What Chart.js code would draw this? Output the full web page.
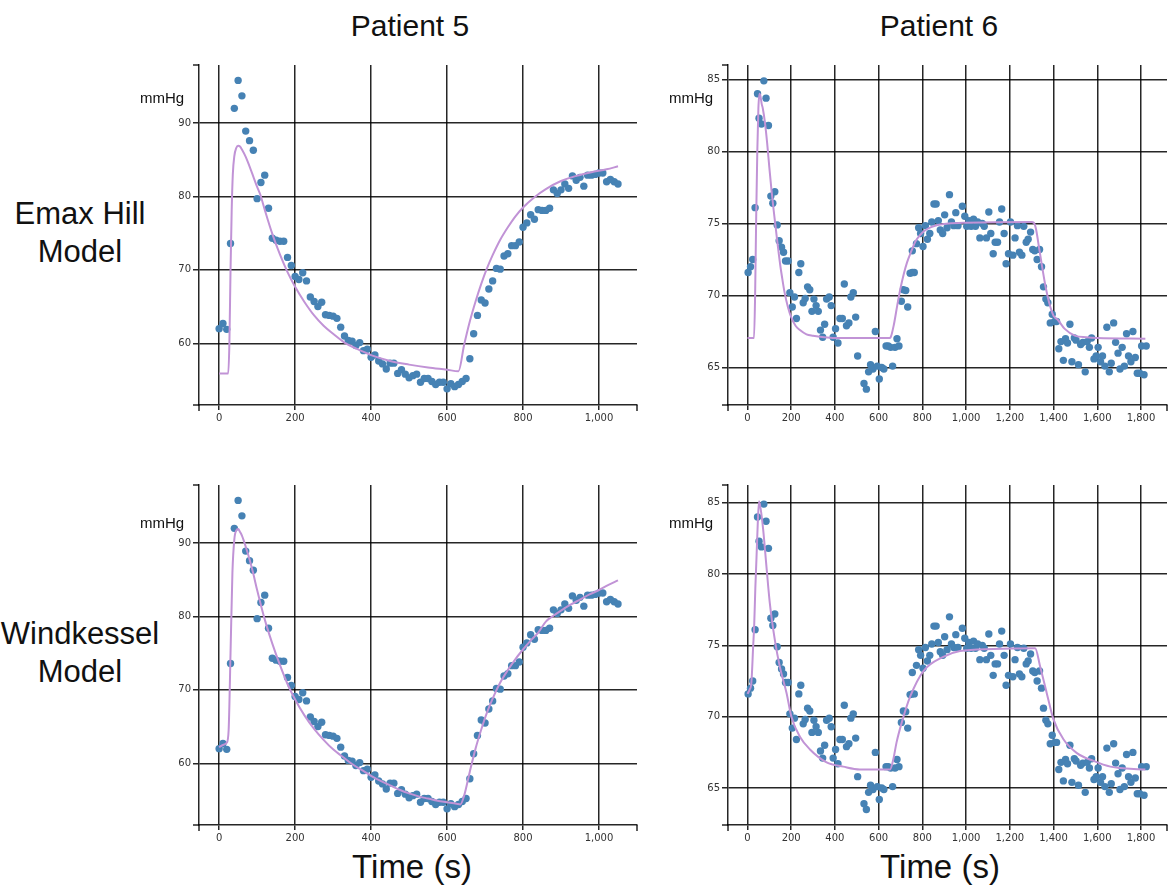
<!DOCTYPE html>
<html>
<head>
<meta charset="utf-8">
<script src="https://cdn.jsdelivr.net/npm/chart.js@4.4.1/dist/chart.umd.min.js"></script>
<style>
  html, body { margin: 0; padding: 0; background: #fff; }
  body { width: 1176px; height: 894px; position: relative; overflow: hidden; font-family: 'Liberation Sans', Arial, sans-serif; color: #111; }
  .panel { position: absolute; }
  .txt { position: absolute; white-space: nowrap; }
  .title { font-size: 30px; line-height: 30px; top: 11px; transform: translateX(-50%); }
  .xlabel { font-size: 33px; line-height: 33px; top: 850px; transform: translateX(-50%); }
  .row { font-size: 31px; line-height: 38px; left: 0; width: 160px; text-align: center; }
  .unit { font-size: 15px; line-height: 15px; }
</style>
</head>
<body>

<div class="txt title" style="left:410px">Patient 5</div>
<div class="txt title" style="left:939px">Patient 6</div>
<div class="txt row" style="top:195px">Emax Hill<br>Model</div>
<div class="txt row" style="top:615px">Windkessel<br>Model</div>
<div class="txt xlabel" style="left:412px">Time (s)</div>
<div class="txt xlabel" style="left:940px">Time (s)</div>

<canvas id="p5emax" class="panel" width="500" height="380" style="left:149px;top:55px"></canvas>
<canvas id="p6emax" class="panel" width="498" height="380" style="left:678px;top:55px"></canvas>
<canvas id="p5wk" class="panel" width="500" height="380" style="left:149px;top:475px"></canvas>
<canvas id="p6wk" class="panel" width="498" height="380" style="left:678px;top:475px"></canvas>

<div class="txt unit" style="left:140px;top:90px">mmHg</div>
<div class="txt unit" style="left:669px;top:90px">mmHg</div>
<div class="txt unit" style="left:140px;top:515px">mmHg</div>
<div class="txt unit" style="left:669px;top:515px">mmHg</div>

<script>
// ---- DATA ----
// Patient 5 measured MAP (s, mmHg)
const p5Time = [0,10,20,30,40,50,60,70,80,90,100,110,120,130,140,150,160,170,180,190,
  200,210,220,230,240,250,260,270,280,290,300,310,320,330,340,350,360,370,380,390,
  400,410,420,430,440,450,460,470,480,490,500,510,520,530,540,550,560,570,580,590,
  600,610,620,630,640,650,660,670,680,690,700,710,720,730,740,750,760,770,780,790,
  800,810,820,830,840,850,860,870,880,890,900,910,920,930,940,950,960,970,980,990,
  1000,1010,1020,1030,1040,1050];
const p5Pressure = [62.0,62.7,61.9,73.6,92.0,95.8,93.7,88.9,87.6,86.3,79.7,81.9,82.9,78.4,74.3,74.05,73.9,73.9,71.7,70.6,
  69.1,68.7,69.6,68.5,66.3,65.7,65.0,65.6,63.9,63.8,63.7,63.4,62.2,61.0,60.4,60.3,59.7,60.1,59.0,59.2,
  58.1,58.4,57.6,57.2,56.5,57.3,57.3,55.9,56.4,55.8,55.3,55.6,55.8,54.7,55.2,55.2,54.8,54.4,54.7,54.7,
  53.8,54.5,54.1,54.4,54.8,55.2,57.9,61.3,63.8,65.9,65.5,67.4,68.5,70.2,70.1,71.9,72.2,73.3,73.3,73.8,
  75.8,76.4,77.5,76.9,78.2,78.1,78.1,78.4,80.9,80.4,80.9,81.7,81.1,82.8,82.2,82.6,81.4,82.9,82.9,83.0,
  83.2,83.2,82.0,82.3,82.0,81.7];

// Patient 6 measured MAP (s, mmHg)
const p6Time = [3,14,24,35,46,53,64,75,85,96,107,116,125,136,145,156,165,174,186,194,
  205,215,224,235,244,255,264,275,285,295,304,314,324,334,344,353,362,374,383,392,
  403,414,423,434,443,453,464,473,484,495,504,533,544,554,563,574,585,594,603,614,
  624,634,644,655,664,675,684,693,704,713,724,733,744,754,754,763,773,783,792,803,
  814,823,834,843,853,863,873,882,893,902,913,924,933,944,953,963,983,994,1003,1013,
  1023,1034,1043,1053,1063,1074,1083,1093,1104,1113,1124,1133,1144,1153,1163,1174,1183,1194,1203,1214,
  1224,1235,1244,1255,1264,1275,1284,1295,1305,1314,1325,1336,1345,1354,1365,1374,1385,1394,1405,1414,
  1424,1434,1445,1455,1464,1475,1484,1495,1503,1514,1524,1534,1545,1554,1564,1574,1585,1595,1604,1615,
  1624,1635,1644,1655,1664,1675,1684,1695,1704,1714,1724,1734,1743,1754,1763,1774,1783,1794,1803,1814,1824];
const p6Pressure = [71.6,72.0,72.5,76.1,84.0,82.3,81.9,84.9,83.7,81.8,76.9,76.4,77.2,74.9,73.8,73.35,73.0,72.4,72.4,70.2,
  69.2,69.9,68.4,71.6,72.2,69.5,69.8,70.6,70.4,68.9,69.75,69.3,68.9,67.6,67.1,68.0,69.75,69.9,69.3,67.1,
  67.7,66.7,68.4,68.4,70.8,67.9,68.1,69.9,70.2,68.5,65.8,63.9,63.5,64.7,65.2,64.9,67.5,65.1,64.2,65.0,
  64.9,66.5,66.5,66.4,65.1,66.4,67.0,66.5,69.6,70.4,70.35,69.2,71.55,71.6,73.1,71.6,73.6,74.7,74.3,73.4,
  74.85,73.9,74.3,75.1,76.35,76.35,75.2,74.55,74.3,75.6,74.7,77.0,75.1,74.85,75.75,74.85,76.2,75.5,74.8,75.2,
  74.8,75.3,74.8,75.1,74.0,75.0,74.8,74.0,75.8,74.3,72.9,73.7,73.7,75.1,76.0,74.3,72.2,72.9,75.1,72.8,
  74.0,74.85,73.0,72.8,74.8,73.7,73.9,74.4,73.2,73.1,72.5,73.2,72.0,70.6,69.75,69.5,68.1,68.7,68.2,68.2,
  66.3,66.8,65.5,67.0,66.7,68.0,65.4,67.05,66.9,65.2,66.6,66.75,64.7,66.8,66.4,67.05,65.6,65.8,66.4,65.4,
  65.8,65.1,67.8,64.7,65.3,68.1,66.75,66.0,64.9,66.4,65.1,67.35,65.8,65.4,67.5,65.7,64.6,64.6,66.5,64.5,66.5];

// Model fits (curve samples)
const p5EmaxT = [0,20,24,27,30,33,36,40,45,50,55,60,70,80,90,100,108,120,140,160,180,200,225,250,275,300,330,360,400,450,500,550,600,630,
  645,660,675,690,705,720,740,760,780,800,830,860,900,940,980,1020,1050];
const p5EmaxY = [55.9,55.9,55.9,60.0,70.0,78.0,83.0,85.5,86.6,86.9,86.8,86.4,85.4,84.1,82.7,81.3,80.3,78.2,74.9,72.1,69.7,67.7,65.6,63.8,62.4,61.3,60.1,59.3,58.4,57.6,57.1,56.7,56.4,56.2,
  59.8,63.0,65.7,68.1,70.2,72.0,74.1,75.8,77.3,78.5,79.9,81.0,82.1,82.8,83.3,83.7,84.1];

const p5WkT = [0,10,20,25,30,35,40,45,50,55,60,70,80,90,100,120,140,160,180,200,225,250,275,300,325,350,375,400,425,450,475,500,525,550,575,600,625,635,
  645,660,675,690,705,720,740,760,780,800,820,840,860,880,900,925,950,975,1000,1025,1050];
const p5WkY = [62.2,62.5,62.8,64.5,75.0,86.0,90.5,91.7,91.9,91.5,91.0,89.5,87.8,85.8,83.6,79.6,76.3,73.4,70.8,68.7,66.5,64.7,63.2,61.9,60.9,59.9,59.1,58.3,57.6,57.0,56.4,55.9,55.5,55.2,54.9,54.7,54.5,54.4,
  55.6,58.9,62.0,64.6,66.9,68.8,71.0,72.7,74.2,75.5,76.7,77.8,79.3,80.1,80.8,81.6,82.3,83.0,83.6,84.3,84.9];

const p6EmaxT = [0,30,35,40,45,50,55,60,65,70,80,90,100,110,120,130,140,150,160,170,185,200,220,240,270,300,350,400,650,
  655,670,685,700,715,730,750,770,790,810,840,870,920,1000,1300,1310,1320,1335,1350,1365,1380,1400,1420,1450,1500,1550,1600,1820];
const p6EmaxY = [67.05,67.05,70.0,75.5,80.0,83.0,84.0,83.8,83.3,83.0,82.0,80.6,78.9,77.3,75.9,74.6,73.3,72.1,71.1,70.2,69.2,68.5,67.9,67.6,67.3,67.2,67.1,67.05,67.05,
  67.1,68.0,69.3,70.5,71.5,72.3,73.1,73.8,74.2,74.5,74.75,74.9,75.0,75.05,75.1,75.05,74.6,73.2,71.8,70.5,69.5,68.6,68.3,67.7,67.2,67.1,67.05,67.0];

const p6WkT = [0,10,18,26,31,36,41,47,53,60,72,87,102,125,148,179,201,240,286,362,438,514,652,
  667,682,705,744,805,896,972,1125,1316,1339,1369,1400,1446,1507,1583,1660,1820];
const p6WkY = [71.6,71.9,72.4,74.9,76.5,79.0,81.0,83.5,85.1,84.6,83.1,80.5,78.0,75.4,73.5,71.65,70.0,68.6,67.7,66.8,66.5,66.3,66.3,
  67.0,68.2,69.55,71.4,73.2,74.2,74.6,74.75,74.8,73.5,71.65,69.8,68.4,67.45,66.9,66.5,66.3];

// ---- AXES ----
const p5XTicks = [0, 200, 400, 600, 800, 1000];
const p6XTicks = [0, 200, 400, 600, 800, 1000, 1200, 1400, 1600, 1800];
const p5YTicks = [60, 70, 80, 90];
const p6YTicks = [65, 70, 75, 80, 85];

const gridCol = 'rgba(0,0,0,0.85)';
const tickCol = '#333';
const dotCol = '#4682b4';
const fitCol = '#c193d6';

function pairs(xs, ys) {
  return xs.map((x, i) => ({ x: x, y: ys[i] }));
}

// d3-style outer ticks at the ends of both domain lines
const domainCaps = {
  id: 'domainCaps',
  afterDraw(chart) {
    const { ctx, chartArea: a } = chart;
    ctx.save();
    ctx.strokeStyle = gridCol;
    ctx.lineWidth = 1.5;
    ctx.beginPath();
    ctx.moveTo(a.left - 6, a.top); ctx.lineTo(a.left, a.top);
    ctx.moveTo(a.left - 6, a.bottom); ctx.lineTo(a.left, a.bottom);
    ctx.moveTo(a.left, a.bottom); ctx.lineTo(a.left, a.bottom + 6);
    ctx.moveTo(a.right, a.bottom); ctx.lineTo(a.right, a.bottom + 6);
    ctx.stroke();
    ctx.restore();
  }
};

function makePanel(id, pts, fit, xr, yr, xTicks, yTicks, padRight) {
  new Chart(document.getElementById(id), {
    type: 'scatter',
    data: {
      datasets: [
        {
          type: 'line',
          data: fit,
          borderColor: fitCol,
          borderWidth: 2,
          pointRadius: 0,
          cubicInterpolationMode: 'monotone',
          fill: false,
        },
        {
          data: pts,
          backgroundColor: dotCol,
          borderWidth: 0,
          pointRadius: 3.7,
        }
      ]
    },
    options: {
      responsive: false,
      animation: false,
      devicePixelRatio: 1,
      layout: { padding: { left: 0, top: 10, right: padRight, bottom: 0 } },
      plugins: { legend: { display: false }, tooltip: { enabled: false } },
      scales: {
        x: {
          type: 'linear',
          min: xr[0], max: xr[1],
          afterBuildTicks: s => { s.ticks = xTicks.map(v => ({ value: v })); },
          afterFit: s => { s.height = 30; },
          grid: { color: gridCol, lineWidth: 1.5, tickLength: 5 },
          border: { color: gridCol, width: 1.5 },
          ticks: {
            padding: 2,
            color: tickCol,
            font: { family: "'DejaVu Sans'", size: 10 },
            maxRotation: 0,
            callback: v => v.toLocaleString('en-US'),
          },
        },
        y: {
          min: yr[0], max: yr[1],
          afterBuildTicks: s => { s.ticks = yTicks.map(v => ({ value: v })); },
          afterFit: s => { s.width = 50; },
          grid: { color: gridCol, lineWidth: 1.5, tickLength: 6 },
          border: { color: gridCol, width: 1.5 },
          ticks: {
            padding: 2,
            color: tickCol,
            font: { family: "'DejaVu Sans'", size: 10 },
          },
        }
      }
    },
    plugins: [domainCaps]
  });
}

makePanel('p5emax', pairs(p5Time, p5Pressure), pairs(p5EmaxT, p5EmaxY), [-53, 1100], [51.6, 97.9], p5XTicks, p5YTicks, 12);
makePanel('p6emax', pairs(p6Time, p6Pressure), pairs(p6EmaxT, p6EmaxY), [-89, 1919], [62.4, 86.0], p6XTicks, p6YTicks, 9);
makePanel('p5wk', pairs(p5Time, p5Pressure), pairs(p5WkT, p5WkY), [-53, 1100], [51.6, 97.9], p5XTicks, p5YTicks, 12);
makePanel('p6wk', pairs(p6Time, p6Pressure), pairs(p6WkT, p6WkY), [-89, 1919], [62.41, 86.24], p6XTicks, p6YTicks, 9);
</script>
</body>
</html>
